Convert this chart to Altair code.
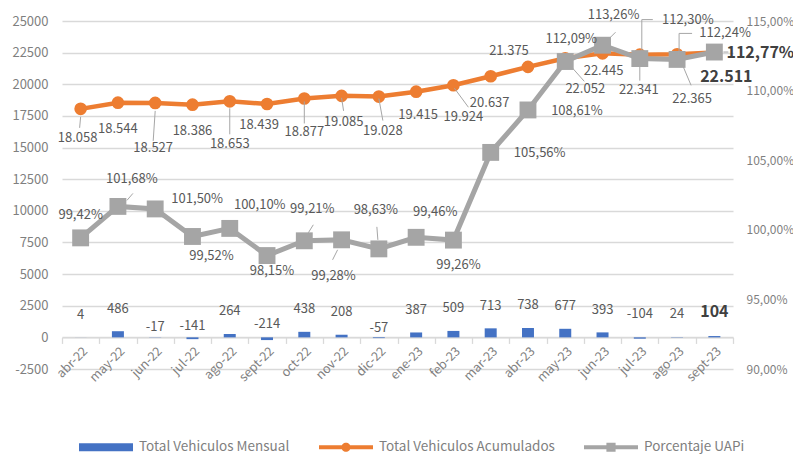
import altair as alt
import pandas as pd

# ---------------- data ----------------
MONTHS = ["abr-22", "may-22", "jun-22", "jul-22", "ago-22", "sept-22", "oct-22", "nov-22", "dic-22",
          "ene-23", "feb-23", "mar-23", "abr-23", "may-23", "jun-23", "jul-23", "ago-23", "sept-23"]
MENSUAL = [4, 486, -17, -141, 264, -214, 438, 208, -57, 387, 509, 713, 738, 677, 393, -104, 24, 104]
ACUMULADOS = [18058, 18544, 18527, 18386, 18653, 18439, 18877, 19085, 19028, 19415, 19924, 20637,
              21375, 22052, 22445, 22341, 22365, 22511]
UAPI = [99.42, 101.68, 101.50, 99.52, 100.10, 98.15, 99.21, 99.28, 98.63, 99.46, 99.26, 105.56,
        108.61, 112.09, 113.26, 112.30, 112.24, 112.77]
SERIES = ["Total Vehiculos Mensual", "Total Vehiculos Acumulados", "Porcentaje UAPi"]
LEFT_TICKS = [-2500, 0, 2500, 5000, 7500, 10000, 12500, 15000, 17500, 20000, 22500, 25000]
RIGHT_TICKS = [90, 95, 100, 105, 110, 115]

# ---------------- label placement (pixel offsets from each point) ----------------
O_DX = [-3, 0, -2, 0, 0, -8, 0, 2, 4, 2, 10, -1, -19, 20, 1, -1, 15, 12]
O_DY = [29, 26, 45, 26, 43, 21, 34, 26, 34, 23, 32, 27, -16, 31, 18, 35, 45, 25]
G_DX = [0, 14, 42, 19, 30, 5, 8, -8, -3, 19, 5, 49, 49, 6, 11, 48, 48, 46]
G_DY = [-23, -27, -10, 20, -23, 15, -32, 36, -39, -25, 25, 1, 1, -23, -30, -39, -26, 1]
B_DY = [-22, -22, -11, -13, -23, -16, -23, -23, -10, -22, -23, -22, -23, -23, -22, -25, -23, -24]
# leader lines: (index, x1, y1, x2, y2) offsets from the point
O_LEADERS = [(0, 0, 8, -1, 19), (2, 0, 8, -2, 38), (4, 0, 7, 0, 33), (6, 0, 3, 0, 25),
             (7, 0, 2, 2, 15), (8, 0, 2, 4, 24), (10, 1, 3, 15, 22), (13, 3, 5, 19, 23),
             (15, 0, 6, 0, 26), (16, 6, 12, 14, 31)]
G_LEADERS = [(1, 9, -6, 15, -13), (6, 4, -8, 9, -16), (7, -4, 10, -9, 20), (8, -2, -22, -1, -9),
             (14, 8, -8, 13, -13), (15, 2, -8, 2, -39), (15, 2, -39, 13, -39),
             (16, 2, -4, 2, -26), (16, 2, -26, 15, -26), (17, 9, 0, 14, 0)]

FONT = "Noto Sans CJK JP"
BLUE, ORANGE, GRAY = "#4472C4", "#ED7D31", "#A5A5A5"
AXIS_TXT, LABEL_TXT, BOLD_TXT, GRID = "#7F7F7F", "#595959", "#404040", "#D9D9D9"
LEADER = "#A6A6A6"

df = pd.DataFrame({
    "month": MONTHS,
    "mensual": MENSUAL,
    "acum": ACUMULADOS,
    "uapi": UAPI,
})
df["t_mensual"] = [str(v) for v in MENSUAL]
df["t_acum"] = [f"{v:,}".replace(",", ".") for v in ACUMULADOS]
df["t_uapi"] = [f"{v:.2f}".replace(".", ",") + "%" for v in UAPI]

LEFT_DOMAIN = [-2500, 25000]
RIGHT_DOMAIN = [90, 115]


def X(**kw):
    return alt.X(
        "month:N", sort=MONTHS,
        scale=alt.Scale(domain=MONTHS, paddingInner=0, paddingOuter=0),
        axis=alt.Axis(title=None, labelAngle=-45, labelAlign="right", labelBaseline="top",
                      labelPadding=1, labelFontSize=12.5, labelColor=AXIS_TXT, labelFont=FONT,
                      tickBand="extent", tickSize=6, tickColor=GRID, tickWidth=1.3,
                      domainColor=GRID, domainWidth=1.3, offset=-31.6, grid=False),
        **kw)


def YL(field, axis=True):
    ax = alt.Axis(title=None, values=LEFT_TICKS, labelExpr="datum.value + ''", grid=True,
                  gridColor=GRID, gridWidth=1.3, domain=False, ticks=False, labelPadding=14,
                  labelFontSize=13, labelColor=AXIS_TXT, labelFont=FONT, orient="left") if axis else None
    return alt.Y(field, type="quantitative",
                 scale=alt.Scale(domain=LEFT_DOMAIN, nice=False, zero=False), axis=ax)


def YR(field, axis=True):
    ax = alt.Axis(title=None, values=RIGHT_TICKS,
                  labelExpr="replace(format(datum.value, '.2f'), '.', ',') + '%'",
                  grid=False, domain=False, ticks=False, labelPadding=13, labelFontSize=12,
                  labelColor=AXIS_TXT, labelFont=FONT, orient="right") if axis else None
    return alt.Y(field, type="quantitative",
                 scale=alt.Scale(domain=RIGHT_DOMAIN, nice=False, zero=False), axis=ax)


def text_layers(yfun, yfield, tfield, dxs, dys):
    out = []
    for i in range(len(MONTHS)):
        bold = i == len(MONTHS) - 1
        out.append(
            alt.Chart(df.iloc[[i]]).mark_text(
                dx=dxs[i], dy=dys[i], font=FONT, align="center", baseline="middle",
                fontSize=16 if bold else 13, fontWeight="bold" if bold else "normal",
                color=BOLD_TXT if bold else LABEL_TXT,
            ).encode(x=X(), y=yfun(yfield, axis=False), text=alt.Text(f"{tfield}:N"))
        )
    return out


def leader_layers(yfun, yfield, leaders):
    out = []
    for (i, x1, y1, x2, y2) in leaders:
        out.append(
            alt.Chart(df.iloc[[i]]).mark_rule(
                color=LEADER, strokeWidth=1, xOffset=x1, yOffset=y1, x2Offset=x2, y2Offset=y2
            ).encode(x=X(bandPosition=0.5), x2=alt.X2("month", bandPosition=0.5),
                     y=yfun(yfield, axis=False), y2=alt.Y2(yfield))
        )
    return out


base = alt.Chart(df)

# ---- left-axis marks ----
bars = base.mark_bar(size=12, color=BLUE).encode(x=X(), y=YL("mensual"))
acum_line = base.mark_line(color=ORANGE, strokeWidth=4.5).encode(x=X(), y=YL("acum"))
acum_pts = base.mark_point(filled=True, shape="circle", size=160, color=ORANGE, opacity=1).encode(
    x=X(), y=YL("acum"))

# legend built from the three series names (invisible points, visible legend symbols)
LEG_SHAPES = [
    "M-1,-0.15H1V0.15H-1Z",
    "M-1,-0.075H1V0.075H-1Z M-0.17,0 A0.17,0.17 0 1,1 0.17,0 A0.17,0.17 0 1,1 -0.17,0 Z",
    "M-1,-0.075H1V0.075H-1Z M-0.17,-0.17H0.17V0.17H-0.17Z",
]
leg = alt.Legend(title=None, orient="none", legendX=17, legendY=399, direction="horizontal",
                 symbolSize=2916, symbolStrokeWidth=0, symbolOpacity=1, labelFont=FONT,
                 labelFontSize=13.5, labelColor=AXIS_TXT, labelOffset=6, columnPadding=29,
                 labelLimit=400)
legend_layer = base.transform_fold(
    ["mensual", "acum", "uapi"], as_=["key", "value"]
).transform_calculate(
    series=f"datum.key == 'mensual' ? '{SERIES[0]}' : datum.key == 'acum' ? '{SERIES[1]}' : '{SERIES[2]}'"
).mark_point(filled=True, opacity=0).encode(
    x=X(), y=YL("value", axis=False),
    color=alt.Color("series:N", scale=alt.Scale(domain=SERIES, range=[BLUE, ORANGE, GRAY]), legend=leg),
    shape=alt.Shape("series:N", scale=alt.Scale(domain=SERIES, range=LEG_SHAPES), legend=leg),
)

left_marks = alt.layer(bars, acum_line, acum_pts)

# ---- right-axis marks ----
uapi_line = base.mark_line(color=GRAY, strokeWidth=5).encode(x=X(), y=YR("uapi"))
uapi_pts = base.mark_square(size=285, color=GRAY, opacity=1).encode(x=X(), y=YR("uapi"))
right_marks = alt.layer(uapi_line, uapi_pts)

# ---- labels on top ----
left_labels = alt.layer(
    *leader_layers(YL, "acum", O_LEADERS),
    *text_layers(YL, "mensual", "t_mensual", [0] * len(MONTHS), B_DY),
    *text_layers(YL, "acum", "t_acum", O_DX, O_DY),
    legend_layer,
)
right_labels = alt.layer(
    *leader_layers(YR, "uapi", G_LEADERS),
    *text_layers(YR, "uapi", "t_uapi", G_DX, G_DY),
)

chart = alt.layer(left_marks, right_marks, left_labels, right_labels).resolve_scale(
    y="independent"
).properties(
    width=671, height=348,
    padding={"left": 62, "top": 21, "right": 60, "bottom": 85},
    autosize=alt.AutoSizeParams(type="none"),
    background="white",
).configure_view(stroke=None)

chart.save("out.html", embed_options={"renderer": "svg", "actions": False})
